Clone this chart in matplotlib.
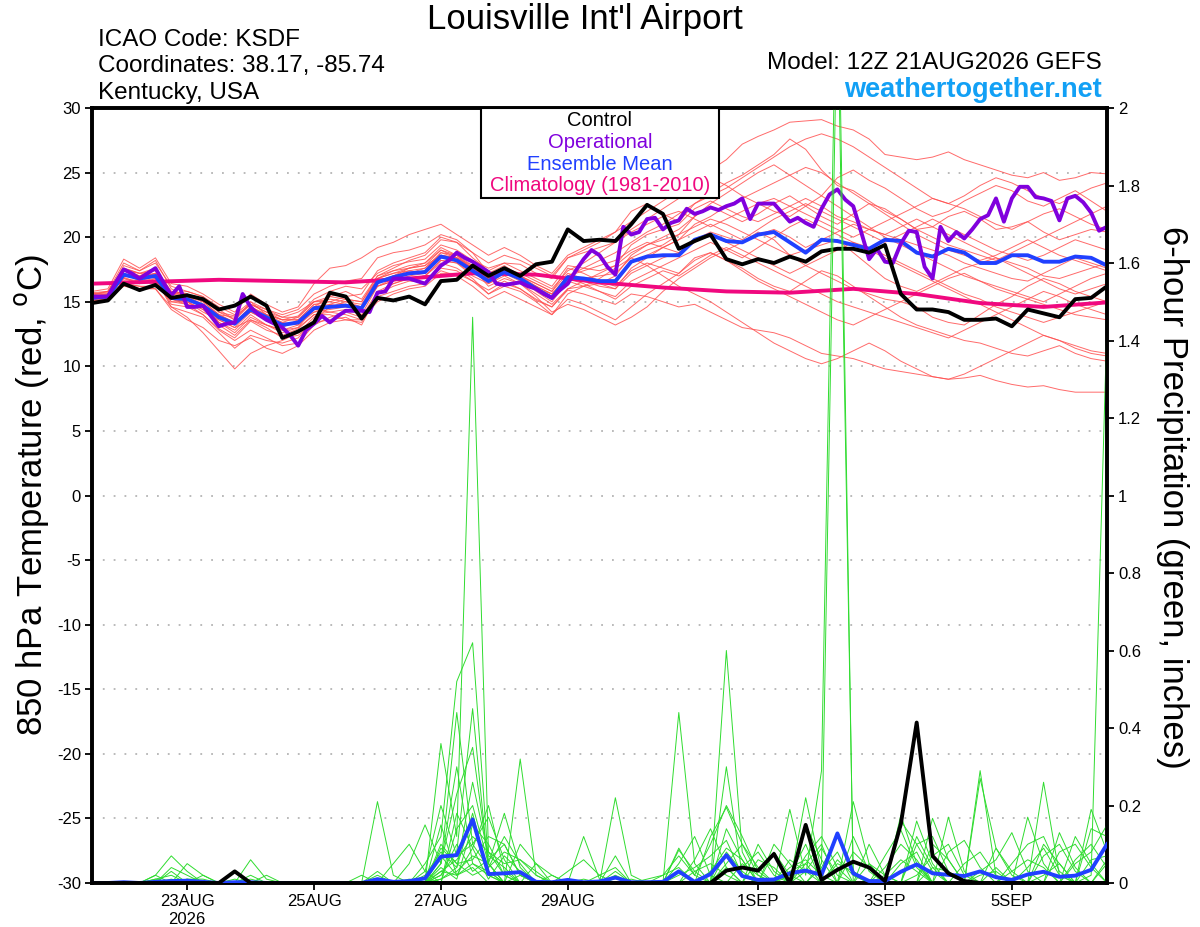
import numpy as np
import matplotlib
matplotlib.use("Agg")
import matplotlib.pyplot as plt
from matplotlib.patches import Rectangle

plt.rcParams['font.family'] = ['Liberation Sans', 'DejaVu Sans']

# forecast hours after 12Z 21AUG2026 (6-hourly GEFS, 3-hourly operational)
hours = np.arange(65) * 6
op_hours = np.arange(129) * 3
climo_hours = np.arange(17) * 24

tick_hours = [36, 84, 132, 180, 252, 300, 348]
tick_labels = ['23AUG\n2026', '25AUG', '27AUG', '29AUG', '1SEP', '3SEP', '5SEP']

# 850 hPa temperature (C)
control_t = [14.9, 15.1, 16.4, 15.9, 16.3, 15.3, 15.5, 15.2, 14.4, 14.7, 15.4, 14.7, 12.2,
             12.7, 13.4, 15.7, 15.4, 13.7, 15.3, 15.1, 15.4, 14.8, 16.6, 16.7, 17.8, 17.0,
             17.6, 17.0, 17.9, 18.1, 20.6, 19.7, 19.8, 19.7, 21.0, 22.5, 21.8, 19.1, 19.7,
             20.2, 18.3, 17.9, 18.3, 18.0, 18.5, 18.1, 18.9, 19.1, 19.1, 18.8, 19.4, 15.6,
             14.4, 14.4, 14.2, 13.6, 13.6, 13.7, 13.1, 14.4, 14.1, 13.8, 15.2, 15.3, 16.2]

mean_t = [15.3, 15.4, 17.1, 16.8, 17.0, 15.3, 15.2, 14.7, 13.8, 13.3, 14.4, 13.8, 13.2,
          13.4, 14.5, 14.6, 14.7, 14.5, 16.5, 16.9, 17.2, 17.3, 18.5, 18.2, 17.4, 16.6,
          17.3, 16.8, 16.0, 15.3, 16.9, 16.8, 16.6, 16.6, 18.1, 18.5, 18.6, 18.6, 19.8,
          20.2, 19.7, 19.6, 20.2, 20.4, 19.6, 18.8, 19.8, 19.7, 19.4, 19.1, 19.8, 19.7,
          18.8, 18.5, 19.1, 18.8, 18.0, 18.0, 18.6, 18.6, 18.1, 18.1, 18.5, 18.4, 17.8]

op_t = [15.4, 15.4, 15.4, 16.5, 17.5, 17.2, 16.8, 17.2, 17.6, 16.5, 15.5, 16.2, 14.6,
        14.6, 14.7, 13.9, 13.1, 13.3, 13.4, 15.6, 14.6, 14.0, 13.6, 13.3, 13.0, 12.4,
        11.6, 12.8, 13.3, 13.9, 13.4, 13.9, 14.3, 14.3, 14.3, 14.2, 15.7, 15.8, 16.8,
        16.8, 16.8, 16.6, 16.4, 17.1, 17.8, 18.2, 18.8, 18.4, 18.1, 17.7, 17.3, 16.4,
        16.3, 16.4, 16.5, 16.2, 16.0, 15.6, 15.3, 15.9, 16.4, 17.4, 18.3, 19.0, 18.6,
        17.7, 17.1, 20.8, 20.2, 20.4, 21.4, 21.5, 20.6, 21.1, 21.3, 22.2, 21.8, 22.0,
        22.3, 22.1, 22.4, 22.6, 23.0, 21.4, 22.6, 22.6, 22.6, 21.9, 21.2, 21.5, 21.1,
        20.8, 22.2, 23.3, 23.7, 22.9, 22.4, 20.4, 18.3, 19.1, 18.1, 18.0, 19.5, 20.5,
        20.4, 17.7, 16.8, 20.8, 19.7, 20.4, 19.9, 20.6, 21.4, 21.7, 23.0, 21.2, 23.0,
        23.9, 23.9, 23.1, 23.0, 22.8, 21.3, 23.0, 23.2, 22.7, 21.9, 20.5, 20.8]

climo_t = [16.4, 16.55, 16.7, 16.6, 16.5, 16.8, 17.2, 17.1, 16.5, 16.1, 15.8, 15.7,
           16.0, 15.6, 14.9, 14.6, 14.95]

member_t = [
    [15.6, 15.8, 17.6, 17.2, 17.4, 15.8, 15.6, 15.1, 14.2, 13.9, 14.8, 14.2, 13.6,
     13.9, 15.2, 15.8, 16.2, 16.0, 17.2, 17.8, 18.1, 18.3, 19.4, 19.0, 18.2, 17.6,
     18.0, 17.9, 17.2, 16.8, 18.4, 19.0, 19.6, 20.4, 21.2, 22.0, 22.8, 23.6, 24.4,
     25.2, 26.0, 27.2, 27.8, 28.3, 28.9, 29.0, 29.1, 28.6, 28.3, 27.6, 26.4, 26.2,
     26.0, 26.2, 26.6, 26.0, 25.6, 25.2, 24.8, 24.6, 25.0, 24.4, 24.6, 25.0, 24.9],
    [15.1, 15.2, 16.6, 16.5, 16.7, 14.8, 14.6, 14.0, 12.9, 12.2, 13.5, 12.8, 12.4,
     12.9, 14.0, 14.2, 14.0, 13.6, 15.6, 16.2, 16.6, 16.5, 17.6, 17.4, 16.6, 15.9,
     16.6, 16.0, 15.1, 14.6, 15.9, 15.6, 15.2, 14.8, 15.6, 15.4, 15.0, 14.6, 14.8,
     14.2, 13.6, 13.0, 12.8, 12.6, 12.2, 11.6, 11.0, 10.8, 10.6, 10.2, 9.8, 9.6,
     9.4, 9.2, 9.0, 9.1, 9.3, 8.9, 8.6, 8.4, 8.5, 8.2, 8.0, 8.0, 8.0],
    [15.4, 15.5, 16.9, 16.4, 16.8, 14.6, 13.8, 12.6, 11.2, 9.8, 11.0, 11.6, 12.0,
     12.6, 13.8, 14.8, 15.2, 15.0, 16.8, 17.4, 17.8, 18.0, 19.0, 18.4, 17.6, 16.2,
     16.8, 16.4, 15.6, 14.8, 16.0, 16.2, 16.4, 17.0, 18.6, 19.4, 20.0, 20.6, 21.6,
     22.4, 21.8, 21.2, 21.8, 22.6, 23.2, 22.4, 21.6, 21.0, 21.8, 22.6, 22.2, 21.4,
     20.6, 20.8, 21.6, 22.0, 21.4, 20.6, 20.8, 21.2, 20.4, 19.8, 20.2, 20.6, 20.4],
    [15.2, 15.6, 17.8, 17.4, 18.2, 16.0, 15.4, 14.8, 13.4, 12.8, 14.0, 13.2, 12.6,
     13.0, 14.6, 15.4, 15.8, 15.2, 17.0, 17.6, 18.2, 18.6, 19.8, 19.6, 18.8, 17.2,
     17.8, 17.0, 16.4, 15.8, 17.6, 17.2, 16.6, 16.2, 17.4, 18.0, 17.6, 17.2, 18.4,
     18.8, 18.2, 17.6, 16.8, 16.2, 15.8, 16.6, 17.4, 17.0, 16.2, 15.4, 14.6, 13.8,
     13.2, 12.8, 12.4, 12.0, 11.8, 11.4, 11.0, 10.8, 11.2, 11.6, 11.0, 10.6, 10.4],
    [15.8, 16.0, 18.3, 17.6, 18.4, 16.4, 16.2, 15.6, 14.8, 14.2, 15.6, 14.8, 14.2,
     14.6, 16.4, 17.6, 17.8, 18.4, 19.2, 19.6, 20.2, 20.6, 21.0, 20.2, 19.4, 18.6,
     19.2, 18.6, 17.8, 17.2, 18.6, 19.2, 19.8, 20.4, 22.0, 22.6, 21.8, 21.2, 22.6,
     23.4, 24.2, 24.8, 25.6, 26.4, 27.6, 26.8, 25.2, 24.0, 23.6, 22.8, 22.0, 21.4,
     20.6, 20.0, 19.4, 19.0, 18.6, 18.2, 18.8, 19.4, 20.0, 20.6, 21.2, 21.8, 22.4],
    [15.0, 15.3, 16.4, 16.2, 16.2, 15.2, 15.0, 14.4, 13.2, 12.4, 13.6, 13.0, 12.2,
     12.4, 13.4, 13.6, 13.8, 13.2, 15.6, 16.4, 16.8, 17.0, 18.2, 18.0, 17.0, 16.4,
     17.0, 16.4, 15.4, 14.2, 14.8, 14.4, 13.8, 13.2, 13.8, 14.6, 15.8, 16.8, 17.6,
     18.4, 19.0, 19.6, 20.4, 19.8, 18.6, 17.8, 17.2, 16.6, 16.0, 15.6, 15.2, 15.0,
     14.6, 13.8, 13.4, 13.2, 14.0, 14.8, 15.4, 16.2, 16.8, 16.4, 15.8, 15.4, 15.0],
    [15.5, 15.6, 17.4, 17.0, 17.2, 15.6, 15.8, 15.4, 14.6, 14.0, 15.0, 14.4, 13.8,
     14.2, 15.0, 15.2, 15.0, 14.8, 16.8, 17.2, 17.4, 17.6, 18.8, 18.6, 17.8, 17.0,
     17.6, 17.2, 16.6, 16.0, 17.4, 18.0, 18.8, 19.6, 20.6, 21.4, 22.2, 23.0, 24.0,
     24.6, 24.0, 23.2, 22.6, 22.0, 21.6, 22.4, 23.2, 24.6, 25.2, 24.4, 23.8, 23.0,
     22.2, 21.6, 22.0, 22.8, 23.4, 24.0, 23.6, 22.8, 22.4, 23.0, 23.6, 22.8, 22.0],
    [15.1, 15.4, 17.2, 16.6, 16.8, 15.0, 15.0, 14.2, 13.6, 13.0, 14.2, 13.6, 13.4,
     13.2, 14.4, 14.2, 14.4, 14.0, 16.2, 16.6, 17.0, 17.2, 18.4, 18.2, 17.6, 16.4,
     17.2, 16.6, 16.0, 15.4, 17.0, 17.4, 17.8, 18.2, 19.0, 19.6, 19.2, 18.8, 19.8,
     20.4, 20.0, 19.6, 20.2, 20.6, 20.0, 19.2, 19.8, 20.4, 21.0, 20.6, 20.2, 20.8,
     21.4, 20.8, 20.2, 19.6, 19.0, 18.4, 18.0, 17.6, 17.0, 16.8, 17.2, 17.6, 18.0],
    [15.3, 15.4, 16.8, 16.4, 16.6, 15.2, 14.8, 14.0, 12.8, 12.0, 12.8, 12.2, 11.6,
     11.8, 13.2, 13.8, 14.2, 13.8, 15.8, 16.4, 16.8, 17.0, 18.0, 17.6, 16.8, 15.6,
     16.2, 15.8, 15.0, 14.0, 15.6, 16.2, 16.8, 17.6, 18.4, 17.8, 17.0, 16.2, 15.6,
     15.0, 14.2, 13.4, 12.6, 11.8, 11.2, 10.6, 10.2, 10.6, 11.2, 11.8, 11.2, 10.4,
     9.8, 9.2, 9.0, 9.4, 10.0, 10.6, 11.2, 11.8, 12.4, 12.0, 11.4, 11.0, 10.8],
    [15.6, 15.7, 17.5, 17.0, 17.6, 15.8, 15.4, 15.2, 14.4, 13.6, 15.0, 14.0, 13.6,
     13.6, 14.8, 15.0, 15.4, 15.6, 17.4, 18.0, 18.4, 18.8, 20.0, 19.6, 18.4, 17.4,
     18.0, 17.4, 16.8, 16.2, 17.8, 17.6, 17.4, 17.8, 19.4, 20.2, 20.6, 21.0, 22.2,
     22.8, 22.2, 21.6, 21.2, 21.8, 22.4, 23.0, 22.4, 21.6, 21.2, 20.6, 20.2, 19.8,
     19.4, 19.0, 18.6, 18.0, 17.6, 17.2, 16.8, 16.6, 17.2, 17.8, 18.4, 18.0, 17.6],
    [15.2, 15.1, 16.6, 16.6, 16.4, 15.0, 14.8, 14.6, 13.8, 13.4, 14.2, 13.6, 13.0,
     13.6, 14.2, 14.4, 14.6, 14.4, 16.6, 17.0, 17.4, 17.2, 18.6, 18.4, 17.2, 16.8,
     17.4, 17.0, 16.4, 15.8, 17.2, 16.8, 16.4, 16.0, 17.6, 18.4, 19.2, 19.8, 21.0,
     21.6, 22.4, 23.0, 23.6, 24.2, 24.8, 25.4, 25.0, 24.2, 23.4, 22.6, 21.8, 21.0,
     20.2, 19.6, 19.0, 18.6, 18.2, 18.6, 19.2, 19.8, 19.2, 18.6, 18.2, 17.8, 17.4],
    [15.4, 15.5, 17.0, 16.8, 16.9, 15.4, 15.2, 14.6, 13.4, 12.6, 13.8, 13.2, 12.8,
     13.0, 14.0, 14.0, 13.6, 13.4, 15.4, 15.8, 16.2, 16.4, 17.4, 17.0, 16.2, 15.2,
     15.8, 15.2, 14.6, 14.0, 15.2, 14.8, 14.2, 13.6, 14.6, 15.6, 16.4, 17.2, 18.2,
     18.8, 18.2, 17.4, 16.6, 16.0, 15.4, 14.8, 14.2, 13.6, 13.2, 13.8, 14.4, 15.0,
     15.6, 16.2, 16.8, 17.2, 16.6, 16.0, 15.6, 15.2, 14.8, 14.4, 14.0, 13.8, 13.6],
    [15.5, 15.8, 17.6, 17.2, 17.0, 15.6, 15.6, 15.0, 14.0, 13.8, 14.8, 14.2, 13.8,
     13.8, 15.0, 15.4, 15.2, 15.0, 17.0, 17.4, 17.6, 18.0, 19.2, 18.6, 17.4, 16.8,
     17.4, 16.8, 16.0, 15.6, 17.0, 17.6, 18.2, 18.8, 19.6, 20.4, 21.0, 21.8, 22.6,
     23.2, 23.8, 24.6, 25.4, 26.2, 27.0, 27.6, 28.0, 27.6, 27.0, 26.2, 25.4, 24.6,
     23.8, 23.0, 22.6, 23.2, 24.0, 24.6, 24.2, 23.6, 23.0, 22.6, 23.2, 23.8, 24.2],
    [15.0, 15.2, 16.2, 16.0, 16.0, 14.6, 14.2, 13.8, 12.6, 11.4, 12.4, 12.0, 11.8,
     12.2, 13.6, 14.6, 15.0, 14.6, 16.2, 16.6, 16.8, 17.0, 18.2, 18.0, 17.2, 16.6,
     17.2, 16.8, 16.2, 15.6, 16.8, 16.6, 16.2, 16.0, 17.2, 17.8, 18.4, 18.8, 19.6,
     20.2, 19.6, 19.0, 18.4, 17.8, 17.2, 17.8, 18.4, 19.0, 19.6, 19.2, 18.6, 18.0,
     17.4, 16.8, 16.2, 15.6, 15.2, 14.6, 14.2, 13.8, 13.4, 13.8, 14.2, 14.6, 15.0],
    [15.7, 15.8, 18.0, 17.4, 18.0, 16.2, 15.8, 15.4, 14.2, 13.6, 14.8, 14.4, 14.0,
     14.4, 15.6, 16.2, 16.6, 16.8, 18.4, 18.8, 19.0, 19.4, 20.2, 19.8, 18.8, 18.0,
     18.6, 18.2, 17.6, 17.0, 18.4, 18.8, 19.2, 19.6, 20.4, 21.0, 21.6, 22.0, 21.4,
     20.8, 21.4, 22.0, 22.6, 23.0, 22.4, 21.8, 21.2, 20.6, 20.0, 20.6, 21.2, 21.8,
     22.4, 23.0, 22.6, 22.2, 21.6, 21.0, 20.6, 21.2, 21.8, 22.2, 21.6, 21.0, 20.6],
    [15.3, 15.4, 16.8, 16.6, 17.0, 15.4, 15.2, 14.6, 13.6, 13.0, 13.6, 13.2, 12.8,
     13.2, 14.2, 14.6, 14.8, 14.4, 16.4, 17.0, 17.6, 17.8, 18.6, 18.4, 17.8, 17.0,
     17.6, 17.0, 16.2, 15.2, 16.6, 16.2, 15.8, 15.4, 16.6, 17.2, 17.8, 18.4, 19.0,
     19.6, 19.0, 18.4, 19.2, 20.0, 20.8, 21.4, 20.8, 20.2, 19.6, 19.0, 18.4, 17.8,
     17.2, 16.6, 16.0, 15.4, 14.8, 14.2, 13.6, 13.0, 12.4, 12.0, 11.6, 11.2, 11.0],
    [15.2, 15.3, 16.4, 16.2, 16.0, 14.4, 13.6, 13.0, 12.0, 11.6, 12.2, 11.4, 11.0,
     11.6, 12.8, 13.4, 13.6, 13.6, 15.0, 15.6, 16.0, 16.2, 17.2, 17.2, 16.6, 15.6,
     16.4, 16.0, 15.2, 14.6, 16.0, 16.6, 17.2, 17.8, 18.8, 19.4, 19.8, 20.2, 20.8,
     21.4, 21.0, 20.4, 19.8, 19.2, 18.6, 19.0, 19.4, 19.8, 18.8, 17.8, 16.8, 16.2,
     15.8, 16.4, 17.0, 17.6, 18.0, 18.4, 17.8, 17.2, 16.6, 16.0, 15.6, 16.0, 16.4],
    [15.6, 15.6, 17.4, 17.2, 17.6, 15.6, 15.4, 15.0, 14.0, 13.4, 14.6, 14.0, 13.4,
     13.8, 15.0, 15.0, 14.8, 14.6, 16.6, 17.0, 17.2, 17.4, 18.8, 18.4, 17.6, 16.8,
     17.4, 16.8, 15.8, 15.0, 16.6, 16.8, 17.0, 17.2, 18.4, 19.0, 19.4, 20.2, 21.6,
     22.6, 23.4, 24.2, 25.0, 25.6, 24.8, 24.0, 23.2, 22.4, 21.6, 20.8, 20.0, 19.4,
     18.8, 18.2, 17.6, 17.0, 16.6, 16.2, 15.8, 15.4, 15.0, 15.6, 16.2, 16.8, 17.2],
    [15.4, 15.5, 17.2, 16.8, 17.2, 15.2, 15.0, 14.4, 13.8, 13.2, 14.4, 13.8, 13.2,
     13.4, 14.6, 14.8, 14.6, 14.4, 16.2, 16.8, 17.2, 17.6, 18.6, 18.2, 17.4, 16.6,
     17.2, 16.8, 16.0, 15.2, 16.8, 16.4, 15.8, 15.2, 16.2, 16.8, 17.4, 17.0, 17.8,
     18.6, 19.2, 18.6, 18.0, 17.4, 16.8, 16.2, 15.6, 15.0, 14.6, 14.2, 13.8, 13.4,
     13.0, 12.6, 12.2, 12.8, 13.4, 14.0, 14.6, 15.2, 15.8, 15.4, 14.8, 14.4, 14.0],
    [15.4, 15.6, 17.0, 16.8, 17.2, 15.4, 15.2, 14.8, 14.0, 13.4, 14.6, 14.0, 13.6,
     13.6, 14.8, 14.6, 14.8, 14.6, 16.8, 17.2, 17.6, 17.8, 19.0, 18.6, 17.6, 16.8,
     17.4, 16.8, 16.2, 15.6, 17.0, 16.8, 16.6, 16.4, 18.0, 18.6, 19.2, 19.8, 20.4,
     21.0, 20.4, 19.8, 20.6, 21.4, 22.0, 22.6, 22.0, 21.4, 20.8, 20.2, 19.6, 20.2,
     20.8, 21.4, 20.8, 20.2, 19.6, 19.0, 18.6, 18.2, 18.6, 19.2, 19.8, 19.4, 19.0],
]

# 6-hour precipitation (inches); members listed as {step: amount}, other steps are 0
control_p = {9: 0.03, 40: 0.032, 41: 0.04, 42: 0.032, 43: 0.075, 45: 0.15, 46: 0.008,
             47: 0.034, 48: 0.055, 49: 0.04, 50: 0.005, 51: 0.152, 52: 0.414, 53: 0.07,
             54: 0.025, 55: 0.005}

mean_p = [0, 0, 0.002, 0, 0.003, 0.005, 0.006, 0.003, 0, 0.002, 0.002, 0, 0,
          0, 0, 0, 0, 0, 0.01, 0.003, 0.005, 0.012, 0.068, 0.072, 0.164, 0.023,
          0.025, 0.028, 0.003, 0.002, 0.008, 0.002, 0.004, 0.014, 0.002, 0.002, 0.003, 0.03, 0.003,
          0.023, 0.072, 0.018, 0.008, 0.009, 0.025, 0.032, 0.021, 0.128, 0.025, 0.005, 0.005, 0.029,
          0.048, 0.025, 0.021, 0.018, 0.03, 0.015, 0.008, 0.022, 0.029, 0.016, 0.019, 0.034, 0.1]

member_p = [
    {4: 0.02, 5: 0.07, 6: 0.03, 22: 0.36, 23: 0.12, 24: 1.46, 25: 0.08, 26: 0.02, 33: 0.22,
     34: 0.02, 45: 0.05, 46: 0.1, 52: 0.16, 53: 0.05},
    {6: 0.05, 7: 0.02, 21: 0.05, 22: 0.12, 23: 0.52, 24: 0.62, 25: 0.05, 27: 0.32, 28: 0.02,
     40: 0.6, 41: 0.08, 48: 0.21, 49: 0.05, 60: 0.26, 61: 0.02},
    {10: 0.06, 11: 0.01, 20: 0.05, 21: 0.15, 22: 0.05, 23: 0.44, 24: 0.1, 25: 0.17, 26: 0.06,
     37: 0.44, 38: 0.05, 45: 0.22, 46: 0.03, 47: 0.08, 56: 0.29, 57: 0.02},
    {9: 0.01, 18: 0.21, 19: 0.02, 22: 0.02, 23: 0.08, 24: 0.45, 25: 0.03, 31: 0.12, 32: 0.01,
     40: 0.3, 41: 0.02, 46: 0.05, 47: 2.3, 48: 0.02, 54: 0.17, 55: 0.03, 59: 0.17, 60: 0.05,
     64: 0.05},
    {5: 0.03, 22: 0.05, 23: 0.23, 24: 0.35, 25: 0.05, 26: 0.18, 27: 0.04, 37: 0.09, 38: 0.02,
     39: 0.1, 40: 0.2, 41: 0.12, 42: 0.03, 44: 0.19, 45: 0.02, 46: 0.29, 47: 2.5, 56: 0.27,
     57: 0.09, 58: 0.02, 63: 0.02, 64: 1.45},
    {4: 0.01, 5: 0.02, 21: 0.03, 22: 0.2, 23: 0.07, 24: 0.1, 25: 0.04, 26: 0.08, 27: 0.06,
     28: 0.02, 33: 0.07, 40: 0.14, 41: 0.06, 44: 0.02, 45: 0.1, 51: 0.175, 52: 0.05, 61: 0.13,
     62: 0.04},
    {6: 0.01, 7: 0.01, 22: 0.1, 23: 0.05, 24: 0.06, 25: 0.12, 26: 0.1, 27: 0.02, 37: 0.085,
     38: 0.03, 43: 0.1, 44: 0.05, 51: 0.16, 52: 0.1, 53: 0.03, 57: 0.09, 58: 0.03, 62: 0.12,
     63: 0.05},
    {10: 0.02, 19: 0.05, 20: 0.1, 21: 0.03, 23: 0.14, 24: 0.2, 25: 0.05, 30: 0.03, 31: 0.06,
     32: 0.02, 39: 0.12, 40: 0.195, 41: 0.1, 42: 0.02, 48: 0.12, 49: 0.03, 53: 0.167, 54: 0.06,
     63: 0.19, 64: 0.08},
    {5: 0.04, 6: 0.02, 22: 0.03, 23: 0.06, 24: 0.12, 25: 0.08, 26: 0.05, 27: 0.06, 28: 0.03,
     35: 0.01, 36: 0.02, 37: 0.04, 42: 0.06, 43: 0.04, 50: 0.07, 51: 0.137, 52: 0.04, 58: 0.05,
     59: 0.1, 60: 0.12, 61: 0.03},
    {18: 0.03, 21: 0.02, 22: 0.08, 23: 0.04, 24: 0.18, 25: 0.02, 28: 0.05, 29: 0.02, 38: 0.06,
     39: 0.14, 40: 0.04, 47: 0.05, 48: 0.03, 54: 0.08, 55: 0.11, 56: 0.04, 62: 0.06, 63: 0.1,
     64: 0.04},
    {7: 0.02, 22: 0.02, 23: 0.1, 24: 0.03, 25: 0.06, 26: 0.1, 27: 0.02, 40: 0.05, 41: 0.1,
     42: 0.04, 45: 0.15, 46: 0.06, 52: 0.12, 53: 0.04, 60: 0.1, 61: 0.05},
    {9: 0.03, 17: 0.02, 22: 0.05, 23: 0.3, 24: 0.05, 25: 0.02, 33: 0.03, 37: 0.05, 38: 0.12,
     39: 0.02, 44: 0.06, 45: 0.03, 51: 0.05, 52: 0.08, 56: 0.03, 57: 0.06, 58: 0.13, 59: 0.03,
     64: 0.06},
    {4: 0.02, 22: 0.01, 23: 0.04, 24: 0.26, 25: 0.07, 26: 0.04, 31: 0.01, 40: 0.08, 41: 0.03,
     43: 0.08, 44: 0.02, 49: 0.1, 50: 0.02, 55: 0.05, 56: 0.08, 57: 0.02, 61: 0.08, 62: 0.1,
     63: 0.04},
    {10: 0.01, 20: 0.01, 22: 0.07, 23: 0.02, 24: 0.09, 25: 0.2, 26: 0.03, 29: 0.02, 36: 0.02,
     37: 0.07, 38: 0.02, 42: 0.1, 43: 0.03, 46: 0.04, 47: 0.12, 48: 0.03, 53: 0.1, 54: 0.06,
     60: 0.07, 61: 0.1, 62: 0.03},
    {6: 0.01, 22: 0.15, 23: 0.02, 24: 0.04, 27: 0.1, 28: 0.05, 34: 0.01, 39: 0.03, 40: 0.09,
     41: 0.06, 45: 0.07, 46: 0.12, 47: 0.04, 50: 0.04, 51: 0.1, 52: 0.06, 57: 0.04, 63: 0.14,
     64: 0.12},
    {21: 0.01, 23: 0.18, 24: 0.09, 25: 0.01, 26: 0.07, 27: 0.03, 38: 0.03, 39: 0.05, 40: 0.02,
     44: 0.04, 45: 0.06, 46: 0.02, 52: 0.1, 53: 0.12, 54: 0.03, 59: 0.04, 60: 0.09, 61: 0.02},
    {5: 0.01, 22: 0.04, 23: 0.01, 24: 0.15, 25: 0.1, 26: 0.02, 32: 0.02, 33: 0.04, 40: 0.03,
     41: 0.04, 42: 0.08, 43: 0.02, 48: 0.08, 49: 0.04, 52: 0.02, 53: 0.07, 54: 0.1, 55: 0.02,
     62: 0.05, 63: 0.08, 64: 0.15},
    {11: 0.02, 22: 0.09, 23: 0.05, 24: 0.02, 25: 0.04, 26: 0.12, 27: 0.05, 30: 0.01, 37: 0.02,
     38: 0.04, 39: 0.07, 40: 0.11, 41: 0.02, 47: 0.06, 48: 0.02, 51: 0.03, 52: 0.05, 58: 0.03,
     59: 0.06, 60: 0.04},
    {4: 0.01, 18: 0.02, 22: 0.01, 23: 0.03, 24: 0.07, 25: 0.05, 33: 0.02, 41: 0.05, 42: 0.02,
     45: 0.03, 46: 0.09, 47: 0.02, 50: 0.02, 51: 0.06, 52: 0.03, 56: 0.02, 57: 0.03, 63: 0.06,
     64: 0.07},
    {22: 0.03, 23: 0.02, 24: 0.05, 25: 0.03, 27: 0.02, 40: 0.04, 44: 0.03, 45: 0.05, 49: 0.05,
     50: 0.02, 53: 0.04, 54: 0.03, 60: 0.02, 61: 0.05},
]


def expand(steps):
    out = np.zeros(len(hours))
    for k, v in steps.items():
        out[k] = v
    return out


fig = plt.figure(figsize=(12, 9.27), dpi=100)
ax = fig.add_axes([92 / 1200, 1 - 883 / 927, 1015 / 1200, 775 / 927])
ax2 = ax.twinx()

# temperature on the left axis
for m in member_t:
    ax.plot(hours, m, color='#ff5050', lw=0.7, alpha=0.85, zorder=2)
ax.plot(climo_hours, climo_t, color='#f0087f', lw=2.8, zorder=4)
ax.plot(hours, mean_t, color='#2040ff', lw=2.8, zorder=5)
ax.plot(op_hours, op_t, color='#8000dd', lw=2.8, zorder=6)
ax.plot(hours, control_t, color='black', lw=2.8, zorder=7)

# precipitation on the right axis
for m in member_p:
    ax2.plot(hours, expand(m), color='#2fdc2f', lw=0.7, zorder=2)
ax2.plot(hours, mean_p, color='#2040ff', lw=2.8, zorder=5)
ax2.plot(hours, expand(control_p), color='black', lw=2.8, zorder=6)

ax.set_xlim(0, 384)
ax.set_ylim(-30, 30)
ax2.set_ylim(0, 2)
ax.set_yticks(range(-30, 31, 5))
ax.set_yticklabels([str(v) for v in range(-30, 31, 5)])
ax2.set_yticks([i * 0.2 for i in range(11)])
ax2.set_yticklabels(['0', '0.2', '0.4', '0.6', '0.8', '1', '1.2', '1.4', '1.6', '1.8', '2'])
ax.set_xticks(tick_hours)
ax.set_xticklabels(tick_labels)

ax.grid(axis='y', color='#b4b4b4', ls=(0, (1, 5)), lw=1.3)
for a in (ax, ax2):
    a.tick_params(direction='out', length=5, width=1.3, labelsize=12, pad=3)
    for s in a.spines.values():
        s.set_linewidth(2.6)

# headers
fig.text(0.4875, 1 - 19 / 927, "Louisville Int'l Airport", ha='center', va='center', fontsize=25)
fig.text(98 / 1200, 1 - 40 / 927, 'ICAO Code: KSDF', ha='left', va='center', fontsize=17.5)
fig.text(98 / 1200, 1 - 66 / 927, 'Coordinates: 38.17, -85.74', ha='left', va='center', fontsize=17.5)
fig.text(98 / 1200, 1 - 93 / 927, 'Kentucky, USA', ha='left', va='center', fontsize=17.5)
fig.text(1102 / 1200, 1 - 63 / 927, 'Model: 12Z 21AUG2026 GEFS', ha='right', va='center', fontsize=17.5)
fig.text(1102 / 1200, 1 - 90 / 927, 'weathertogether.net', ha='right', va='center',
         fontsize=19.5, fontweight='bold', color='#12a0f5')

fig.text(32 / 1200, 1 - 495 / 927, '850 hPa Temperature (red, $^{\\rm o}$C)', rotation=90,
         ha='center', va='center', fontsize=25)
fig.text(1172 / 1200, 1 - 497 / 927, '6-hour Precipitation (green, inches)', rotation=-90,
         ha='center', va='center', fontsize=25)

# legend box
fig.add_artist(Rectangle((481 / 1200, 1 - 198 / 927), 238 / 1200, 90 / 927,
                         transform=fig.transFigure, facecolor='white', edgecolor='black',
                         lw=1.5, zorder=10))
legend_items = [('Control', 'black'), ('Operational', '#8000dd'),
                ('Ensemble Mean', '#2040ff'), ('Climatology (1981-2010)', '#f0087f')]
for k, (txt, col) in enumerate(legend_items):
    fig.text(600 / 1200, 1 - (121 + 21.5 * k) / 927, txt, color=col, ha='center', va='center',
             fontsize=14.5, zorder=11)

fig.savefig('out.png', dpi=100)
